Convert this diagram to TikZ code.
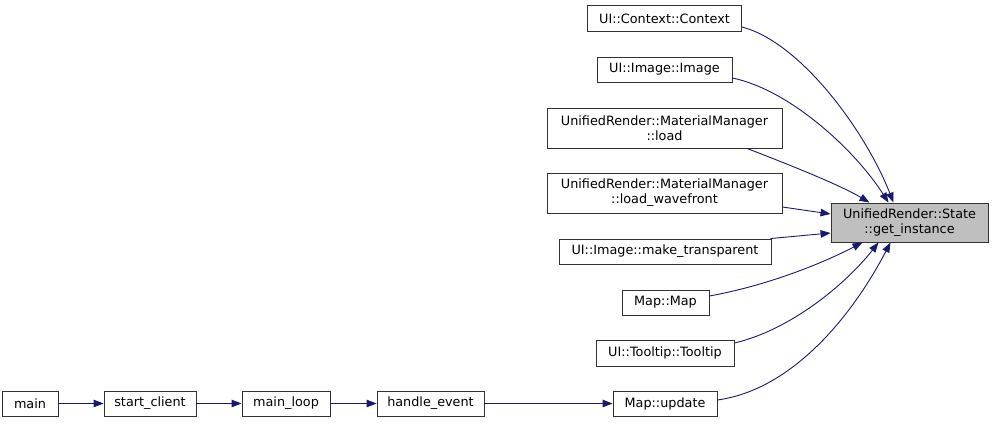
\documentclass[tikz,border=0pt]{standalone}
\usepackage{fontspec}
\setmainfont{DejaVu Sans}
\usetikzlibrary{arrows.meta}
\definecolor{edgeblue}{HTML}{191970}
\definecolor{selgray}{HTML}{BFBFBF}

\begin{document}
\begin{tikzpicture}[x=1pt,y=-1pt,
	fn/.style={draw=black!80,line width=0.9pt,fill=white,inner sep=0pt,minimum height=25pt,align=center,font=\fontsize{12.8}{15}\selectfont},
	edge/.style={draw=edgeblue,line width=0.9pt,-{Triangle[length=10pt,width=7.5pt]}}]
	\useasboundingbox (0,0) rectangle (993,423);
	\node[fn,minimum width=154pt,minimum height=26pt] (ctx) at (664.5,18.5) {UI::Context::Context};
	\node[fn,minimum width=135pt] (img) at (664.5,69.5) {UI::Image::Image};
	\node[fn,minimum width=235pt,minimum height=40pt] (load) at (664.5,128) {UnifiedRender::MaterialManager\\::load};
	\node[fn,minimum width=235pt,minimum height=40pt] (wave) at (664.5,193) {UnifiedRender::MaterialManager\\::load\_wavefront};
	\node[fn,fill=selgray,minimum width=157pt,minimum height=39pt] (gi) at (909.5,222.5) {UnifiedRender::State\\::get\_instance};
	\node[fn,minimum width=212pt] (transp) at (665,251.5) {UI::Image::make\_transparent};
	\node[fn,minimum width=87pt] (mapc) at (665.5,302.5) {Map::Map};
	\node[fn,minimum width=138pt,minimum height=26pt] (tip) at (665,353) {UI::Tooltip::Tooltip};
	\node[fn,minimum width=104pt] (upd) at (665,403.5) {Map::update};
	\node[fn,minimum width=56pt] (main) at (30,403.5) {main};
	\node[fn,minimum width=92pt] (sc) at (150,403.5) {start\_client};
	\node[fn,minimum width=88pt] (ml) at (286,403.5) {main\_loop};
	\node[fn,minimum width=107pt] (he) at (430.5,403.5) {handle\_event};

	\draw[edge] ([yshift=-8.5pt]ctx.east) .. controls (800,42) and (865,130) .. ([xshift=-16pt]gi.north);
	\draw[edge] ([yshift=-8.5pt]img.east) .. controls (790,90) and (855,150) .. ([xshift=-21pt]gi.north);
	\draw[edge] ([xshift=82.5pt]load.south) .. controls (790,165) and (840,185) .. ([xshift=-40pt]gi.north);
	\draw[edge] ([yshift=-14pt]wave.east) -- ([yshift=8.5pt]gi.west);
	\draw[edge] ([xshift=-1pt]transp.north east) -- ([yshift=-10.5pt]gi.west);
	\draw[edge] ([yshift=6.5pt]mapc.east) .. controls (770,285) and (825,262) .. ([xshift=-47pt]gi.south);
	\draw[edge] ([yshift=10pt]tip.east) .. controls (790,330) and (845,285) .. ([xshift=-31pt]gi.south);
	\draw[edge] ([yshift=3.5pt]upd.east) .. controls (790,390) and (850,320) .. ([xshift=-19pt]gi.south);

	\draw[edge] (main) -- (sc);
	\draw[edge] (sc) -- (ml);
	\draw[edge] (ml) -- (he);
	\draw[edge] (he) -- (upd);
\end{tikzpicture}
\end{document}
